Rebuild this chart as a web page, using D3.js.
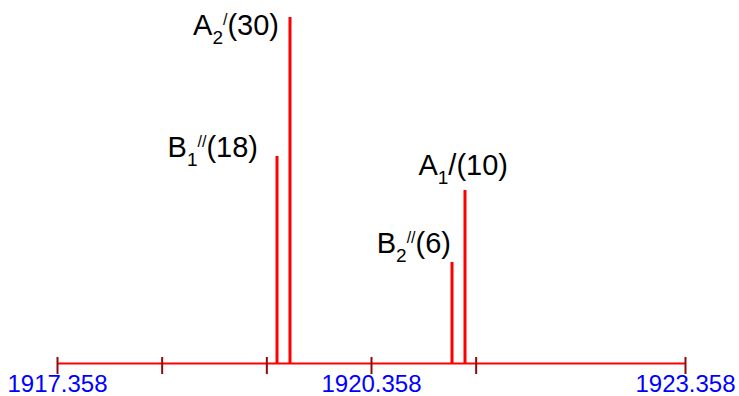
<!DOCTYPE html>
<html>
<head>
<meta charset="utf-8">
<script src="https://cdn.jsdelivr.net/npm/d3@7"></script>
<style>
  body { margin: 0; background: #fff; }
  svg { display: block; font-family: "Liberation Sans", Arial, sans-serif; }
</style>
</head>
<body>
<div id="container"></div>
<script>
// peak positions (x value) and heights
const peakNames = ["B1''", "A2'", "B2''", "A1'"];
const peakPos = [1919.460, 1919.584, 1921.132, 1921.256];
const peakHeight = [17.95, 30, 8.76, 15.0];

// label pieces: base letter, subscript, superscript, rest
const labelBase = ["B", "A", "B", "A"];
const labelSub = ["1", "2", "2", "1"];
const labelSup = ["//", "/", "//", ""];
const labelRest = ["(18)", "(30)", "(6)", "/(10)"];

const tickVals = [1917.358, 1918.358, 1919.358, 1920.358, 1921.358, 1923.358];
const tickLabels = [1917.358, 1920.358, 1923.358];

const width = 739, height = 396;
// label offset from top of its line (end anchor)
const labelOffset = [[-19, 1], [-11, 18], [-1, -9], [43, -15]];

const x = d3.scaleLinear().domain([1917.358, 1923.358]).range([57, 685]);
const y = d3.scaleLinear().domain([0, 30]).range([363, 17]);

const svg = d3.select("#container")
  .append("svg")
    .attr("width", width)
    .attr("height", height);

// axis
const axis = d3.axisBottom(x)
  .tickValues(tickVals)
  .tickSizeInner(11)
  .tickSizeOuter(0)
  .tickFormat(d3.format(".3f"));

const gx = svg.append("g")
  .attr("transform", `translate(0,${y(0)})`)
  .call(axis);
gx.select(".domain")
  .attr("stroke", "#ff0000")
  .attr("stroke-width", 2);
gx.selectAll(".tick line")
  .attr("stroke", "#8b0a0a")
  .attr("stroke-width", 2)
  .attr("y1", -6);
gx.selectAll(".tick text")
  .filter(d => !tickLabels.includes(d))
  .remove();
gx.selectAll(".tick text")
  .attr("fill", "#0000ff")
  .attr("font-size", 24)
  .attr("font-family", "Liberation Sans, Arial, sans-serif")
  .attr("y", 29)
  .attr("dy", 0);

// peaks
const data = peakNames.map((n, i) => ({
  name: n, pos: peakPos[i], h: peakHeight[i],
  base: labelBase[i], sub: labelSub[i], sup: labelSup[i], rest: labelRest[i],
  off: labelOffset[i]
}));

svg.append("g")
    .attr("stroke", "#ff0000")
    .attr("stroke-width", 3)
  .selectAll("line")
  .data(data)
  .join("line")
    .attr("x1", d => x(d.pos))
    .attr("x2", d => x(d.pos))
    .attr("y1", y(0))
    .attr("y2", d => y(d.h));

const lbl = svg.append("g")
    .attr("font-size", 29)
    .attr("fill", "#000")
  .selectAll("text")
  .data(data)
  .join("text")
    .attr("text-anchor", "end")
    .attr("x", d => x(d.pos) + d.off[0])
    .attr("y", d => y(d.h) + d.off[1]);

lbl.append("tspan").text(d => d.base);
lbl.append("tspan")
  .attr("font-size", 19)
  .attr("dy", 9)
  .text(d => d.sub);
lbl.filter(d => d.sup !== "")
  .append("tspan")
  .attr("font-size", 16)
  .attr("dy", -19)
  .text(d => d.sup);
lbl.append("tspan")
  .attr("dy", d => d.sup !== "" ? 10 : -9)
  .text(d => d.rest);
</script>
</body>
</html>
